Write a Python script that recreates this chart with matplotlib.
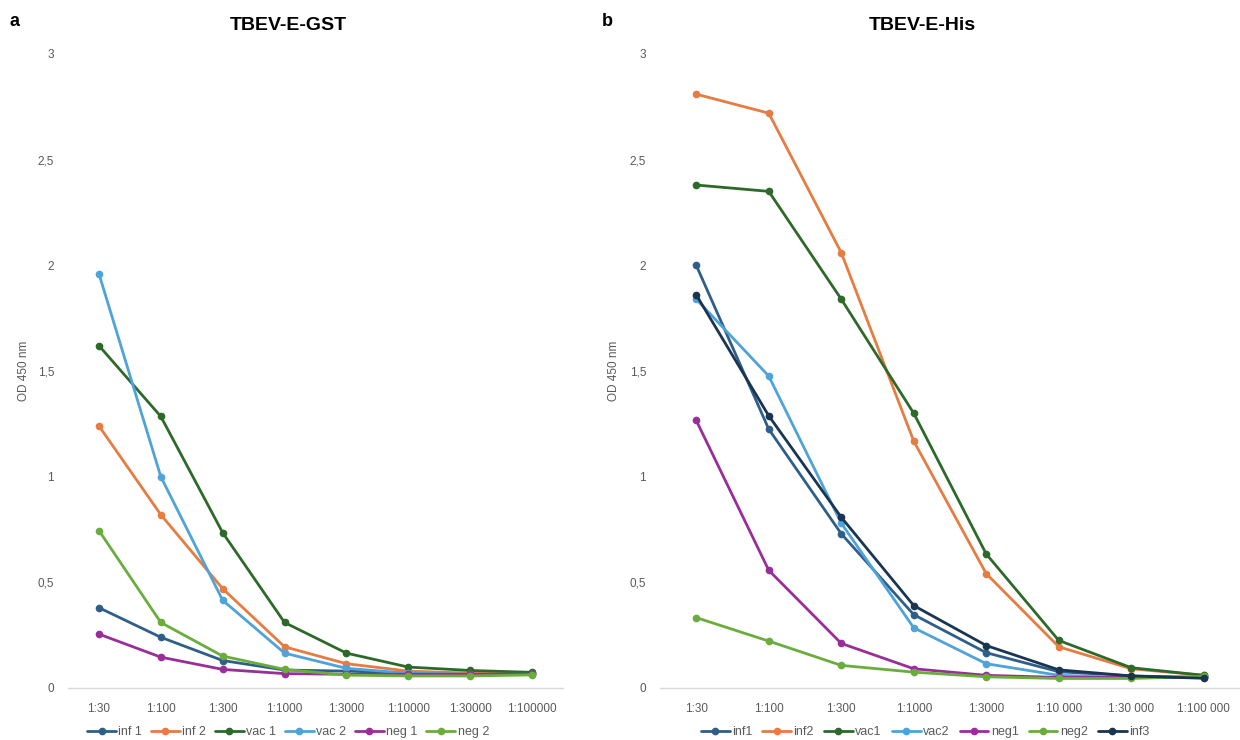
# ELISA titration curves for TBEV-E-GST (a) and TBEV-E-His (b)
import matplotlib
matplotlib.use('Agg')
import matplotlib.pyplot as plt

plt.rcParams['font.family'] = ['Liberation Sans', 'DejaVu Sans']

# data
cats_a = ["1:30", "1:100", "1:300", "1:1000", "1:3000", "1:10000", "1:30000", "1:100000"]
cats_b = ["1:30", "1:100", "1:300", "1:1000", "1:3000", "1:10 000", "1:30 000", "1:100 000"]

inf1_a = [0.38, 0.24, 0.13, 0.085, 0.08, 0.07, 0.07, 0.07]
inf2_a = [1.24, 0.82, 0.47, 0.195, 0.115, 0.08, 0.07, 0.07]
vac1_a = [1.62, 1.285, 0.735, 0.31, 0.165, 0.099, 0.083, 0.074]
vac2_a = [1.96, 1.0, 0.415, 0.165, 0.093, 0.07, 0.065, 0.065]
neg1_a = [0.255, 0.146, 0.088, 0.068, 0.065, 0.065, 0.065, 0.065]
neg2_a = [0.745, 0.31, 0.151, 0.088, 0.061, 0.057, 0.057, 0.062]

inf1_b = [2.0, 1.225, 0.73, 0.347, 0.167, 0.077, 0.057, 0.05]
inf2_b = [2.81, 2.72, 2.06, 1.168, 0.541, 0.195, 0.091, 0.06]
vac1_b = [2.38, 2.35, 1.84, 1.30, 0.634, 0.225, 0.096, 0.06]
vac2_b = [1.84, 1.476, 0.78, 0.285, 0.115, 0.06, 0.05, 0.05]
neg1_b = [1.266, 0.557, 0.211, 0.091, 0.06, 0.05, 0.05, 0.05]
neg2_b = [0.333, 0.222, 0.107, 0.075, 0.053, 0.045, 0.045, 0.055]
inf3_b = [1.86, 1.288, 0.808, 0.39, 0.201, 0.086, 0.057, 0.046]

yticks = [0, 0.5, 1, 1.5, 2, 2.5, 3]
ytick_labels = ["0", "0,5", "1", "1,5", "2", "2,5", "3"]

# colours
c_inf1 = '#2f5f88'
c_inf2 = '#e67c41'
c_vac1 = '#2d6a2a'
c_vac2 = '#4ea3d8'
c_neg1 = '#982f98'
c_neg2 = '#6aad3d'
c_inf3 = '#1a3551'
grey = '#595959'

series_a = [("inf 1", inf1_a, c_inf1), ("inf 2", inf2_a, c_inf2),
            ("vac 1", vac1_a, c_vac1), ("vac 2", vac2_a, c_vac2),
            ("neg 1", neg1_a, c_neg1), ("neg 2", neg2_a, c_neg2)]
series_b = [("inf1", inf1_b, c_inf1), ("inf2", inf2_b, c_inf2),
            ("vac1", vac1_b, c_vac1), ("vac2", vac2_b, c_vac2),
            ("neg1", neg1_b, c_neg1), ("neg2", neg2_b, c_neg2),
            ("inf3", inf3_b, c_inf3)]

fig = plt.figure(figsize=(12.4, 7.4), dpi=100)
ax_a = fig.add_axes([68/1240, 52/740, 495/1240, 634/740])
ax_b = fig.add_axes([660/1240, 52/740, 580/1240, 634/740])


def draw(ax, cats, series, ylab_x):
    x = list(range(len(cats)))
    handles = []
    for name, vals, col in series:
        ln, = ax.plot(x, vals, color=col, lw=2.0, marker='o', ms=4.5,
                      solid_capstyle='round', label=name)
        handles.append(ln)
    ax.set_xlim(-0.5, len(cats) - 0.5)
    ax.set_ylim(0, 3)
    ax.set_xticks(x)
    ax.set_xticklabels(cats, fontsize=8.5, color=grey)
    ax.set_yticks(yticks)
    ax.set_yticklabels(ytick_labels, fontsize=8.5, color=grey)
    ax.tick_params(axis='both', length=0)
    ax.tick_params(axis='x', pad=11)
    ax.tick_params(axis='y', pad=10)
    for s in ['top', 'right', 'left']:
        ax.spines[s].set_visible(False)
    ax.spines['bottom'].set_color('#d9d9d9')
    ax.spines['bottom'].set_linewidth(1.0)
    ax.set_ylabel('OD 450 nm', fontsize=8.5, color=grey)
    ax.yaxis.set_label_coords(ylab_x, 0.5)
    return handles


h_a = draw(ax_a, cats_a, series_a, -0.077)
h_b = draw(ax_b, cats_b, series_b, -0.069)

leg_a = fig.legend(handles=h_a, loc='center', bbox_to_anchor=(288/1240, 8/740),
                   ncol=6, frameon=False, fontsize=9, handlelength=2.3,
                   columnspacing=0.7, handletextpad=0.2, borderpad=0)
leg_b = fig.legend(handles=h_b, loc='center', bbox_to_anchor=(925/1240, 8/740),
                   ncol=7, frameon=False, fontsize=9, handlelength=2.3,
                   columnspacing=0.8, handletextpad=0.2, borderpad=0)
for leg in (leg_a, leg_b):
    for t in leg.get_texts():
        t.set_color(grey)

fig.text(288/1240, 1 - 25/740, 'TBEV-E-GST', ha='center', va='center',
         fontsize=14, fontweight='bold')
fig.text(922/1240, 1 - 25/740, 'TBEV-E-His', ha='center', va='center',
         fontsize=14, fontweight='bold')
fig.text(15/1240, 1 - 22/740, 'a', ha='center', va='center',
         fontsize=13, fontweight='bold')
fig.text(607/1240, 1 - 22/740, 'b', ha='center', va='center',
         fontsize=13, fontweight='bold')

fig.savefig('out.png', dpi=100, facecolor='white')
